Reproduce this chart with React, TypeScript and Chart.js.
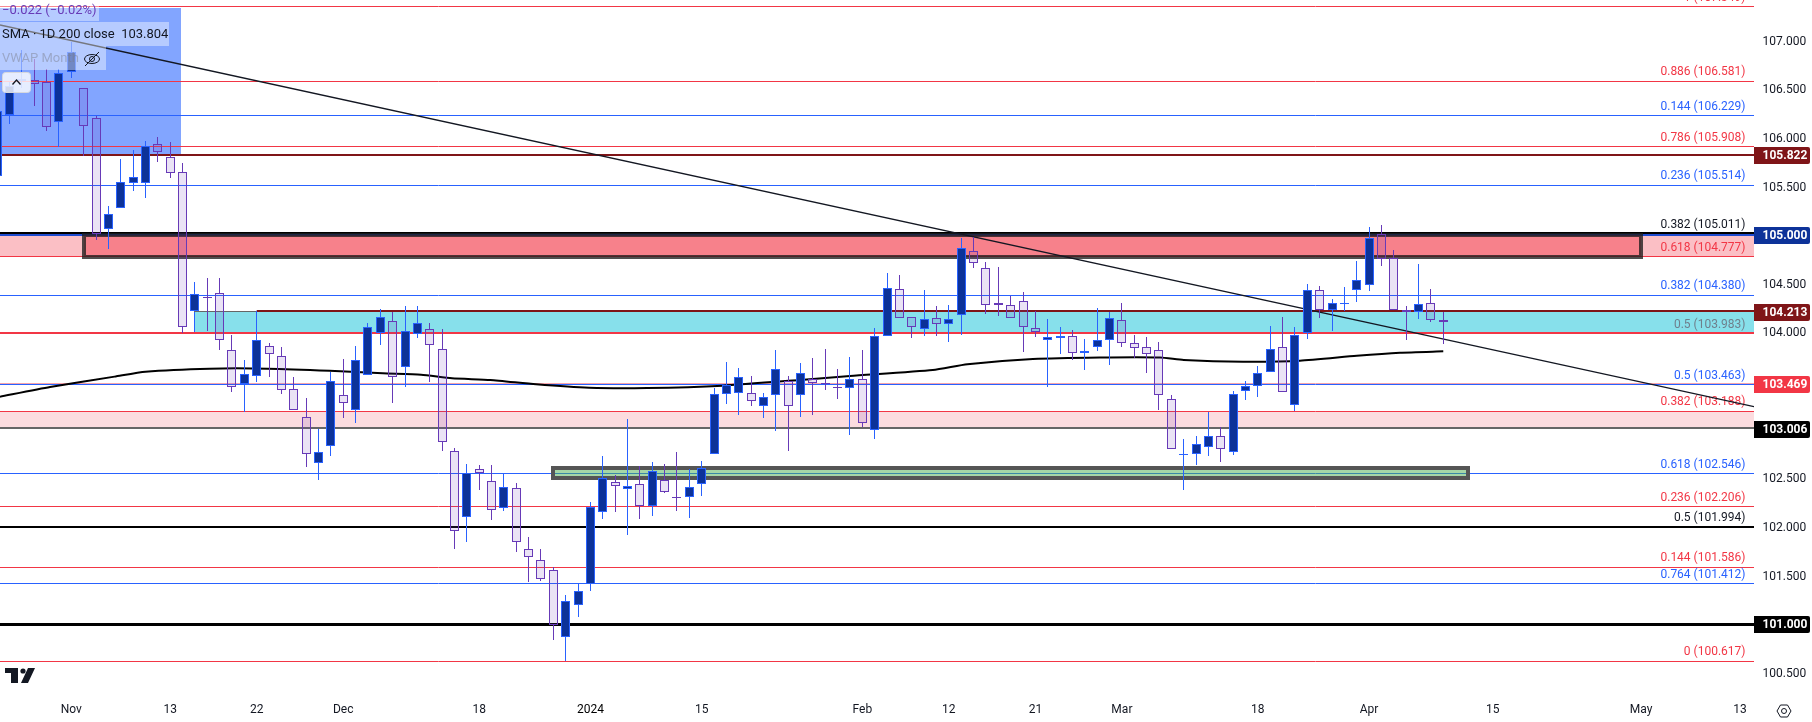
import React, { useEffect, useRef } from "react";
import { Chart, registerables } from "chart.js";

Chart.register(...registerables);

const firstBar = -6;
const opens = [105.607,106.234,106.584,106.591,106.577,106.166,
106.674,106.509,106.201,105.065,105.275,105.538,105.532,105.933,105.800,105.645,
104.216,104.360,104.401,103.815,103.465,103.548,103.856,103.753,103.414,103.126,
102.653,102.828,103.352,103.198,103.558,103.990,104.113,103.640,103.979,104.031,
103.825,102.776,102.098,102.591,102.468,102.190,102.396,101.769,101.656,101.553,
100.864,101.193,101.415,102.149,102.458,102.392,102.437,102.217,102.484,102.308,
102.303,102.437,102.746,103.362,103.373,103.373,103.239,103.352,103.502,103.352,
103.517,103.477,103.435,103.424,103.517,102.992,103.959,104.442,104.154,104.031,
104.144,104.082,104.175,104.833,104.658,104.298,104.278,104.319,104.041,103.918,
103.941,103.959,103.784,103.846,103.918,104.123,103.887,103.846,103.815,103.311,
102.741,102.746,102.817,102.931,102.766,103.393,103.445,103.589,103.846,103.249,
103.990,104.432,104.226,104.293,104.432,104.483,105.008,104.761,104.226,104.206,
104.298,104.123];
const closes = [106.276,106.533,106.605,106.556,106.114,106.663,
106.885,106.124,105.014,105.213,105.542,105.594,105.913,105.857,105.635,104.051,
104.391,104.350,103.918,103.434,103.568,103.918,103.774,103.404,103.198,102.746,
102.766,103.496,103.270,103.712,104.051,104.154,103.537,104.010,104.093,103.866,
102.869,101.954,102.550,102.556,102.170,102.406,101.841,101.693,101.466,100.987,
101.234,101.337,102.204,102.499,102.423,102.416,102.211,102.571,102.361,102.298,
102.406,102.602,103.362,103.455,103.537,103.291,103.332,103.620,103.239,103.578,
103.476,103.467,103.425,103.517,103.064,103.959,104.452,104.144,104.051,104.134,
104.082,104.134,104.864,104.710,104.278,104.278,104.144,104.051,104.000,103.949,
103.965,103.784,103.805,103.918,104.144,103.887,103.836,103.774,103.352,102.797,
102.751,102.848,102.931,102.797,103.362,103.445,103.578,103.825,103.383,103.969,
104.432,104.226,104.298,104.303,104.535,104.967,104.751,104.226,104.206,104.288,
104.123,104.103];
const highs = [106.276,106.574,106.903,106.810,106.704,106.704,
106.988,106.509,106.224,105.299,105.782,105.875,105.967,106.008,105.957,105.738,
104.517,104.555,104.555,103.972,103.715,104.222,103.887,103.846,103.537,103.321,
103.009,103.592,103.725,103.859,104.096,104.237,104.212,104.270,104.270,104.093,
104.034,102.807,102.646,102.635,102.635,102.550,102.447,101.895,101.772,101.584,
101.299,101.422,102.255,102.728,102.533,103.109,102.625,102.663,102.646,102.766,
102.591,102.677,103.424,103.692,103.630,103.551,103.373,103.815,103.551,103.681,
103.733,103.825,103.620,103.743,103.815,104.041,104.607,104.586,104.160,104.432,
104.267,104.278,104.970,104.977,104.720,104.668,104.376,104.411,104.222,104.134,
104.051,104.021,103.928,104.247,104.212,104.298,103.969,103.952,103.897,103.352,
102.900,102.931,103.181,103.023,103.393,103.496,103.654,104.062,104.154,104.051,
104.494,104.473,104.339,104.463,104.730,105.080,105.100,104.843,104.267,104.699,
104.442,104.206];
const lows = [105.607,106.142,106.512,106.330,106.073,105.909,
106.612,105.816,104.949,104.857,105.275,105.453,105.384,105.754,105.590,103.996,
104.216,104.016,103.818,103.389,103.184,103.492,103.543,103.366,103.198,102.618,
102.481,102.731,103.122,103.070,103.558,103.873,103.276,103.441,103.941,103.492,
102.783,101.775,101.847,102.378,102.073,102.163,101.744,101.436,101.446,100.836,
100.620,101.076,101.343,102.080,102.155,101.916,102.083,102.114,102.351,102.166,
102.094,102.320,102.746,103.266,103.153,103.245,103.122,102.988,102.783,103.132,
103.153,103.410,103.317,102.947,103.029,102.906,103.959,104.144,103.945,103.965,
103.965,103.903,103.975,104.664,104.191,104.171,104.144,103.801,103.955,103.441,
103.780,103.718,103.615,103.811,103.667,103.852,103.739,103.585,103.201,102.797,
102.378,102.635,102.728,102.669,102.738,103.304,103.338,103.589,103.383,103.188,
103.934,104.150,104.016,104.219,104.315,104.425,104.685,104.226,103.924,104.140,
104.109,103.883];

const smaIndex = [-5.77,-1.72,3.5,6,11.2,15.9,20.9,25.2,28.3,30.8,33.9,37.6,41.9,46.6,52.7,59,63,69.7,72.5,77.8,83.2,88.1,90,94.8,99.4,104,107.5,111];
const smaValues = [103.338,103.438,103.544,103.595,103.626,103.626,103.605,103.578,103.564,103.527,103.510,103.465,103.430,103.427,103.451,103.510,103.551,103.612,103.671,103.725,103.741,103.741,103.715,103.698,103.708,103.759,103.790,103.804];

const trendIndex = [-5.77,136.14];
const trendValues = [107.160,103.235];

const fibRatios = ["1","0.886","0.144","0.786","0.236","0.382","0.618","0.382","0.5","0.5","0.382","0.618","0.236","0.5","0.144","0.764","0"];
const fibPrices = [107.349,106.581,106.229,105.908,105.514,105.011,104.777,104.380,103.983,103.463,103.188,102.546,102.206,101.994,101.586,101.412,100.617];
const fibTones = ["red","red","blue","red","blue","black","red","blue","muted","blue","red","blue","red","black","red","blue","red"];

const tagPrices = [105.822,105.000,104.213,103.469,103.006,101.000];
const tagTones = ["maroon","navy","maroon","red","black","black"];
const tagStarts = [-5.77,-5.77,15,-5.77,-5.77,-5.77];

const priceTicks = [107,106.5,106,105.5,104.5,104,102.5,102,101.5,100.5];
const timeTickIndex = [0,8,15,22,33,42,51,64,71,78,85,96,105,115,127,135];
const timeTickLabels = ["Nov","13","22","Dec","18","2024","15","Feb","12","21","Mar","18","Apr","15","May","13"];

const legendChange = "\u22120.022 (\u22120.02%)";
const legendSma = "SMA \u00b7 1D 200 close  103.804";
const legendVwap = "VWAP Month";

const FONT = "Roboto, sans-serif";
const xMin = -5.769;
const xMax = 136.14;
const yMin = 100.301;
const yMax = 107.417;

const toneColor = { red:"#F23645", blue:"#2962FF", black:"#000000", muted:"#F23645", maroon:"#7F1518", navy:"#1E4BD0" };
const UP_BORDER = "#2962FF", UP_FILL = "#0C3299", DOWN_BORDER = "#673AB7", DOWN_FILL = "rgba(103,58,183,0.14)";

const bars = opens.map((o, k) => ({ i:firstBar+k, o, c:closes[k], h:highs[k], l:lows[k], up:closes[k] >= o }));
const colorOf = (b) => b.up ? UP_BORDER : DOWN_BORDER;

const upperWicks = bars.filter(b => b.h > Math.max(b.o,b.c));
const lowerWicks = bars.filter(b => b.l < Math.min(b.o,b.c));

const hLine = (price, color, width, x0 = xMin, label = "level") => ({
  type:"line", label, order:5, data:[{x:x0,y:price},{x:xMax,y:price}],
  borderColor:color, borderWidth:width, pointRadius:0, tension:0, snapLevel:true, borderCapStyle:"butt",
});

function App() {
  const ref = useRef(null);
  useEffect(() => {
    document.body.style.margin = "0";
    document.body.style.background = "#fff";

    const fibSets = fibPrices.map((p,k) => hLine(p, toneColor[fibTones[k]],
      (fibTones[k]==="black"||fibTones[k]==="muted") ? 2 : 1));
    const tagSets = tagPrices.map((p,k) => {
      const w = p===101 ? 3 : (p===103.469 ? 1 : 2);
      const col = p===103.006 ? "#666666" : (p===103.469 ? "#F5A3AA" : toneColor[tagTones[k]]);
      return hLine(p,col,w,tagStarts[k]);
    });
    const levelSets = [...tagSets.filter(s => s.data[0].y===103.469), ...fibSets, ...tagSets.filter(s => s.data[0].y!==103.469)];
    const trendSet = {
      type:"line", label:"trend", order:3, data:trendIndex.map((x,k)=>({x,y:trendValues[k]})),
      borderColor:"#131722", borderWidth:1.3, pointRadius:0, tension:0,
    };
    const smaSet = {
      type:"line", label:"SMA 200", order:2, data:smaIndex.map((x,k)=>({x,y:smaValues[k]})),
      borderColor:"#000000", borderWidth:2, pointRadius:0, tension:0.2,
    };
    const upperSet = {
      type:"bar", label:"upper wick", order:1, grouped:false, barThickness:1, borderWidth:0, inflateAmount:0, snapBar:true,
      data:upperWicks.map(b=>({x:b.i,y:[Math.max(b.o,b.c),b.h]})), backgroundColor:upperWicks.map(colorOf),
    };
    const lowerSet = {
      type:"bar", label:"lower wick", order:1, grouped:false, barThickness:1, borderWidth:0, inflateAmount:0, snapBar:true,
      data:lowerWicks.map(b=>({x:b.i,y:[b.l,Math.min(b.o,b.c)]})), backgroundColor:lowerWicks.map(colorOf),
    };
    const bodySet = {
      type:"bar", label:"body", order:0, grouped:false, barThickness:9, borderWidth:1, borderSkipped:false, inflateAmount:0, snapBar:true,
      data:bars.map(b=>({x:b.i,y:[b.o,b.c]})),
      backgroundColor:bars.map(b=>b.up?UP_FILL:DOWN_FILL), borderColor:bars.map(colorOf),
    };
    const datasets = [...levelSets, trendSet, smaSet, upperSet, lowerSet, bodySet];
    const trendDatasetIndex = levelSets.length;

    const drawings = {
      id:"drawings",
      afterDatasetsUpdate(chart) {
        chart.data.datasets.forEach((ds,di) => {
          const meta = chart.getDatasetMeta(di);
          if (ds.snapLevel) {
            meta.data.forEach(pt => {
              const even = ds.borderWidth % 2 === 0;
              pt.y = even ? Math.floor(pt.y) : Math.floor(pt.y)+0.5;
            });
          }
          if (ds.snapBar) {
            meta.data.forEach(el => {
              el.x = Math.floor(el.x)+0.5;
              el.y = Math.round(el.y);
              el.base = Math.round(el.base);
              if (el.y === el.base) el.base = el.y+1;
            });
          }
        });
      },
      beforeDraw(chart) {
        const yScale = chart.scales.y;
        yScale.getLabelItems(chart.chartArea).forEach(item => {
          item.options = {...item.options, translation:[item.options.translation[0], item.options.translation[1]+1.2]};
        });
      },
      beforeDatasetsDraw(chart) {
        const {ctx,scales:{x,y}} = chart;
        const band = (i0,i1,p0,p1,color) => {
          const X0=Math.round(x.getPixelForValue(i0)),X1=Math.round(x.getPixelForValue(i1));
          const Y0=Math.round(y.getPixelForValue(p0)),Y1=Math.round(y.getPixelForValue(p1));
          ctx.fillStyle=color; ctx.fillRect(X0,Y0,X1-X0,Y1-Y0);
        };
        ctx.save();
        band(xMin,8.88,107.335,105.822,"#82A5FF");
        band(xMin,xMax,105.0,104.777,"#FBBFC5");
        band(xMin,xMax,103.188,103.006,"#FCDCDF");
        band(10,xMax,104.213,103.983,"#87E0EB");
        ctx.fillStyle="#2962FF";
        const tx=Math.floor(x.getPixelForValue(10));
        ctx.fillRect(tx,Math.round(y.getPixelForValue(104.213)),1,Math.round(y.getPixelForValue(103.983)-y.getPixelForValue(104.213)));
        ctx.fillStyle="#666666";
        ctx.fillRect(tx,Math.round(y.getPixelForValue(104.213))-1,Math.round(x.getPixelForValue(15))-tx,1);
        ctx.restore();
      },
      beforeDatasetDraw(chart,args) {
        if (args.index !== trendDatasetIndex) return;
        const {ctx,scales:{x,y}} = chart;
        const box = (i0,i1,p0,p1,fill,stroke) => {
          const X0=Math.round(x.getPixelForValue(i0)),X1=Math.round(x.getPixelForValue(i1));
          const Y0=Math.round(y.getPixelForValue(p0)),Y1=Math.round(y.getPixelForValue(p1));
          ctx.fillStyle=fill; ctx.fillRect(X0,Y0,X1-X0,Y1-Y0);
          ctx.strokeStyle=stroke; ctx.lineWidth=4; ctx.strokeRect(X0,Y0,X1-X0,Y1-Y0);
        };
        ctx.save();
        box(1,127,105.0,104.777,"rgba(242,54,69,0.45)","rgba(30,30,30,0.78)");
        box(39,113,102.605,102.502,"rgba(76,175,80,0.5)","#555555");
        ctx.restore();
        // fib labels
        ctx.save();
        ctx.font=`12px ${FONT}`;
        ctx.textAlign="right"; ctx.textBaseline="middle";
        fibPrices.forEach((p,k)=>{
          const tone=fibTones[k];
          ctx.fillStyle = tone==="muted" ? "#6F7F8C" : tone==="black" ? "#131722" : toneColor[tone];
          ctx.fillText(`${fibRatios[k]} (${p.toFixed(3)})`,1745.5,y.getPixelForValue(p)-9);
        });
        ctx.restore();
      },
      afterDraw(chart) {
        const {ctx,scales:{y}} = chart;
        ctx.save();
        // legend rows
        ctx.fillStyle="rgba(255,255,255,0.42)";
        ctx.fillRect(0,0,99,21);
        ctx.fillRect(0,22,169,24);
        ctx.fillRect(0,46,106,24);
        ctx.textBaseline="middle"; ctx.textAlign="left"; ctx.font=`13px ${FONT}`;
        ctx.fillStyle="#673AB7"; ctx.fillText(legendChange,2,11);
        ctx.fillStyle="#131722"; ctx.fillText(legendSma,2,35);
        ctx.fillStyle="rgba(120,123,134,0.45)"; ctx.fillText(legendVwap,2,59);
        // eye-slash icon
        ctx.strokeStyle="#131722"; ctx.lineWidth=1;
        ctx.beginPath(); ctx.ellipse(92,59,7.5,4.5,0,0,Math.PI*2); ctx.stroke();
        ctx.beginPath(); ctx.arc(92,59,2.5,0,Math.PI*2); ctx.stroke();
        ctx.beginPath(); ctx.moveTo(85,66); ctx.lineTo(99,52); ctx.stroke();
        // collapse button
        ctx.fillStyle="rgba(255,255,255,0.8)"; ctx.strokeStyle="#D6D8DE";
        ctx.beginPath(); ctx.roundRect(2.5,72.5,28,20,3); ctx.fill(); ctx.stroke();
        ctx.strokeStyle="#131722"; ctx.lineWidth=1.3;
        ctx.beginPath(); ctx.moveTo(12.5,84.5); ctx.lineTo(16.5,80); ctx.lineTo(20.5,84.5); ctx.stroke();
        // price tags
        ctx.font=`bold 12px ${FONT}`; ctx.textAlign="left";
        tagPrices.forEach((p,k)=>{
          const cy=Math.round(y.getPixelForValue(p));
          const tone=tagTones[k];
          ctx.fillStyle= tone==="navy" ? "#0D3299" : toneColor[tone];
          ctx.beginPath(); ctx.roundRect(1754,cy-8,56,17,[0,2,2,0]); ctx.fill();
          ctx.fillStyle="#FFFFFF";
          ctx.fillText(p.toFixed(3),1762.5,cy+1);
        });
        // logo
        ctx.fillStyle="#131722";
        ctx.fillRect(5,668,13,5); ctx.fillRect(11,668,7,15);
        ctx.beginPath(); ctx.arc(23,671,2.6,0,Math.PI*2); ctx.fill();
        ctx.beginPath(); ctx.moveTo(28,668); ctx.lineTo(35,668); ctx.lineTo(28,683); ctx.lineTo(21,683); ctx.closePath(); ctx.fill();
        // settings icon
        ctx.strokeStyle="#131722"; ctx.lineWidth=1;
        ctx.beginPath();
        [[1777,711],[1780.5,705],[1787.5,705],[1791,711],[1787.5,717],[1780.5,717]].forEach((q,n)=> n? ctx.lineTo(q[0],q[1]) : ctx.moveTo(q[0],q[1]));
        ctx.closePath(); ctx.stroke();
        ctx.beginPath(); ctx.arc(1784,711,2.5,0,Math.PI*2); ctx.stroke();
        ctx.restore();
      },
    };

    const noPad = (s) => { s.paddingTop=0; s.paddingBottom=0; s.paddingLeft=0; s.paddingRight=0; };
    const chart = new Chart(ref.current, {
      type:"bar",
      data:{ datasets },
      plugins:[drawings],
      options:{
        responsive:false, animation:false, maintainAspectRatio:false,
        layout:{ padding:0 },
        plugins:{ legend:{display:false}, tooltip:{enabled:false} },
        scales:{
          x:{
            type:"linear", min:xMin, max:xMax, offset:false,
            grid:{display:false,drawTicks:false}, border:{display:false},
            afterBuildTicks:(s)=>{ s.ticks=timeTickIndex.map(value=>({value})); },
            afterFit:(s)=>{ s.height=30; noPad(s); },
            ticks:{
              autoSkip:false, maxRotation:0, padding:11, color:(c)=> c.tick && c.tick.value===42 ? "#000000" : "#131722",
              font:{family:FONT,size:12},
              callback:(v)=>{ const k=timeTickIndex.indexOf(v); return k>=0?timeTickLabels[k]:""; },
            },
          },
          y:{
            type:"linear", position:"right", min:yMin, max:yMax,
            grid:{display:false,drawTicks:false}, border:{display:false},
            afterBuildTicks:(s)=>{ s.ticks=priceTicks.map(value=>({value})); },
            afterFit:(s)=>{ s.width=58; noPad(s); },
            ticks:{
              autoSkip:false, padding:8.5, color:"#131722", crossAlign:"near",
              font:{family:FONT,size:12},
              callback:(v)=>Number(v).toFixed(3),
            },
          },
        },
      },
    });
    return () => chart.destroy();
  }, []);
  return <canvas ref={ref} width={1812} height={722} style={{display:"block",position:"absolute",left:0,top:0}} />;
}

export default App;
